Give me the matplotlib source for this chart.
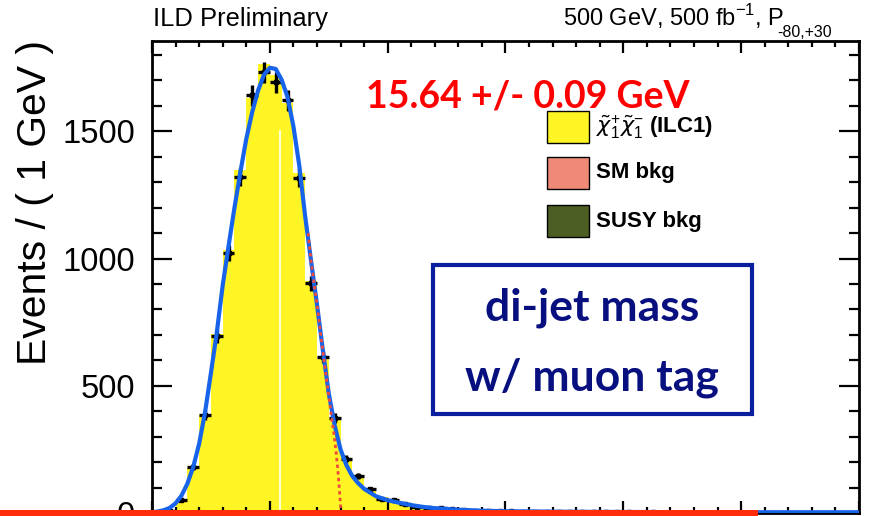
import numpy as np
import matplotlib
matplotlib.use("Agg")
import matplotlib.pyplot as plt
from matplotlib.patches import Rectangle
from matplotlib.ticker import MultipleLocator

plt.rcParams['font.family'] = ['Liberation Sans', 'DejaVu Sans']
plt.rcParams['mathtext.fontset'] = 'custom'
plt.rcParams['mathtext.rm'] = 'Liberation Sans'
plt.rcParams['mathtext.it'] = 'DejaVu Sans:italic'
plt.rcParams['mathtext.bf'] = 'Liberation Sans:bold'

# 1 GeV bins, 0 - 60 GeV
bin_edges = np.arange(0, 61, 1)

# stacked MC (chargino pair signal, backgrounds negligible here)
mc_signal = [2, 9, 48, 175, 385, 705, 1032, 1348, 1632, 1765,
             1720, 1612, 1336, 913, 605, 372, 215, 140, 92, 62,
             45, 33, 25, 19, 15, 12, 10, 8, 7, 6,
             5, 4, 4, 3, 3, 3, 2, 2, 2, 2,
             1, 1, 1, 1, 1, 1, 1, 1, 1, 1,
             1, 1, 1, 1, 0, 0, 0, 0, 0, 0]

# pseudo-data counts
data_counts = [0, 6, 51, 181, 385, 695, 1021, 1320, 1642, 1732,
               1693, 1622, 1316, 903, 613, 373, 212, 145, 94, 55,
               51, 35, 24, 18, 20, 14, 11, 9, 8, 7,
               6, 5, 5, 4, 4, 3, 3, 2, 3, 2,
               2, 1, 2, 1, 1, 1, 1, 1, 0, 1,
               1, 0, 1, 1, 0, 0, 0, 0, 0, 0]

# total fit
fit_x = [0, 0.5, 1, 1.5, 2, 2.5, 3, 3.5, 4, 4.5, 5, 5.5, 6, 6.5, 7, 7.5, 8,
         8.5, 9, 9.5, 10, 10.5, 11, 11.5, 12, 12.5, 13, 13.5, 14, 14.5, 15,
         15.5, 16, 16.5, 17, 17.5, 18, 19, 20, 21, 22, 23, 24, 26, 28, 30,
         35, 40, 50, 60]
fit_y = [3, 6, 11, 20, 38, 68, 115, 181, 272, 395, 550, 710, 895, 1050, 1200,
         1340, 1470, 1575, 1660, 1722, 1750, 1745, 1703, 1635, 1520, 1365,
         1165, 990, 820, 640, 470, 345, 250, 188, 145, 117, 95, 66, 50, 40,
         31, 24, 19, 13, 9, 7, 5, 4, 3, 3]

# truncated component (dotted)
comp_x = [13.25, 13.5, 14.0, 14.5, 15.0, 15.25, 15.45, 15.62, 15.76, 15.87,
          15.98, 16.04]
comp_y = [1100, 990, 820, 636, 460, 372, 308, 241, 174, 111, 43, 0]

legend_labels = [r'$\tilde{\chi}^{+}_{1}\tilde{\chi}^{-}_{1}$ (ILC1)',
                 'SM bkg', 'SUSY bkg']
legend_colors = ['#fff424', '#f08a78', '#4d5e25']

W, H = 870, 516


def fx(px):
    return px / W


def fy(py):
    return 1 - py / H


fig = plt.figure(figsize=(8.7, 5.16), dpi=100)
ax = fig.add_axes([fx(152), fy(513), 707 / W, 472 / H])

centers = bin_edges[:-1] + 0.5
ax.stairs(mc_signal, bin_edges, fill=True, color='#fff424', lw=0, zorder=1)
ax.plot([10.9, 10.9], [0, 1500], color='white', lw=1.2, zorder=1.5)

d = np.array(data_counts, dtype=float)
m = d > 0
ax.errorbar(centers[m], d[m], xerr=0.5, yerr=np.sqrt(d[m]), fmt='s', ms=3.5,
            color='black', ecolor='black', elinewidth=2.4, capsize=0,
            zorder=3)

ax.plot(fit_x, fit_y, color='#1763ea', lw=3, zorder=4,
        solid_joinstyle='round')
ax.plot(comp_x, comp_y, color='#f04a3a', lw=2, ls=(0, (1.2, 1.2)), zorder=4.5)

ax.set_xlim(0, 60)
ax.set_ylim(0, 1855)
ax.xaxis.set_major_locator(MultipleLocator(10))
ax.xaxis.set_minor_locator(MultipleLocator(2))
ax.yaxis.set_major_locator(MultipleLocator(500))
ax.yaxis.set_minor_locator(MultipleLocator(100))
ax.tick_params(which='both', direction='in', top=True, right=True,
               width=1.6, color='black')
ax.tick_params(axis='y', which='major', length=14.4, labelsize=23.5, pad=12)
ax.tick_params(axis='y', which='minor', length=7.2)
ax.tick_params(axis='x', which='major', length=8.6, labelbottom=False)
ax.tick_params(axis='x', which='minor', length=4.3)
for s in ax.spines.values():
    s.set_linewidth(2)

fig.text(fx(35), fy(40), 'Events / ( 1 GeV )', rotation=90, ha='center',
         va='top', fontsize=29.4)
fig.text(fx(153), fy(26), 'ILD Preliminary', fontsize=18.4, va='baseline')
fig.text(fx(563), fy(26), r'500 GeV, 500 fb$^{-1}$, P',
         fontsize=17, va='baseline')
fig.text(fx(777), fy(37), '-80,+30', fontsize=11.5, va='baseline')

# fit result
fig.text(fx(528), fy(107), '15.64 +/- 0.09 GeV', color='#ff0000',
         fontsize=27, fontweight='bold', family='Lato', ha='center',
         va='baseline')

# legend
box_tops = [111, 157, 205]
for top, c, lab in zip(box_tops, legend_colors, legend_labels):
    fig.patches.append(Rectangle((fx(547), fy(top + 32)), 42 / W, 32 / H,
                                 transform=fig.transFigure, facecolor=c,
                                 edgecolor='black', lw=1))
    fig.text(fx(596), fy(top + 16), lab, fontsize=16, fontweight='bold',
             va='center', ha='left')

# annotation box
fig.patches.append(Rectangle((fx(433), fy(414)), 319 / W, 149 / H,
                             transform=fig.transFigure, facecolor='white',
                             edgecolor='#0b1f9e', lw=3, zorder=5))
fig.text(fx(592), fy(321), 'di-jet mass', color='#081080', fontsize=32,
         fontweight='bold', family='Lato', ha='center', va='baseline',
         zorder=6)
fig.text(fx(592), fy(390), 'w/ muon tag', color='#081080', fontsize=32,
         fontweight='bold', family='Lato', ha='center', va='baseline',
         zorder=6)

# red bar along the bottom
fig.patches.append(Rectangle((0, 0), 758 / W, 6 / H, transform=fig.transFigure,
                             facecolor='#ff2d0a', lw=0, zorder=10))

fig.savefig('out.png', dpi=100)
